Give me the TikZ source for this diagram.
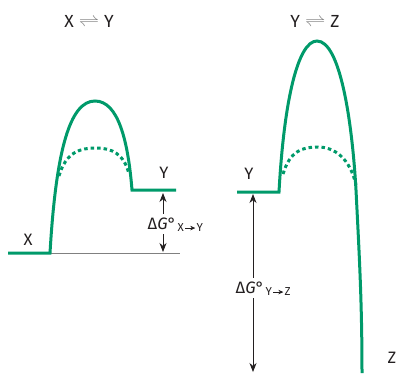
\documentclass[tikz,border=0pt]{standalone}
\usepackage{fontspec}
\setmainfont{Fira Sans}
\usetikzlibrary{arrows.meta}
\definecolor{curvegreen}{HTML}{009A6A}
\definecolor{txt}{HTML}{231F20}
\definecolor{basegray}{HTML}{808080}
\newcommand{\subarrow}{\hspace{1pt}\tikz[baseline=-0.6ex]\draw[txt,line width=0.7pt,-{Stealth[length=5pt,width=4.5pt]}] (0pt,0pt)--(10pt,0pt);\hspace{1pt}}
\newcommand{\eqharp}{\hspace{5pt}{\color{basegray}\scalebox{1.2}[1]{$\rightleftharpoons$}}\hspace{5pt}}
\begin{document}
\begin{tikzpicture}[x=1pt,y=-1pt,
  energy/.style={curvegreen,line width=3pt,line join=miter},
  dotcurve/.style={curvegreen,line width=3pt,dash pattern=on 3.5pt off 3pt},
  lbl/.style={text=txt,font=\fontsize{16.5}{19}\selectfont,inner sep=0pt},
  ttl/.style={text=txt,font=\fontsize{17.5}{20}\selectfont,inner sep=0pt},
  dglabel/.style={text=txt,font=\fontsize{16.5}{19}\selectfont,inner xsep=0pt,inner ysep=4pt},
  sublabel/.style={text=txt,font=\fontsize{11.5}{13}\selectfont,inner sep=0pt,anchor=base west},
  dgarrow/.style={txt,line width=0.8pt,-{Stealth[length=9pt,width=7pt]}}
]
\useasboundingbox (0,0) rectangle (402,373);

% titles
\node[ttl] (titleL) at (89,21) {X\eqharp Y};
\node[ttl] (titleR) at (315,21) {Y\eqharp Z};

% left diagram
\draw[basegray,line width=0.8pt] (50,253) -- (180,253);
\draw[energy] (8,253) -- (50,253) .. controls (56,150) and (70,101) .. (95,101)
  .. controls (118,101) and (128,140) .. (132,190) -- (176,190);
\draw[dotcurve] (59,176) .. controls (66,152) and (80,148) .. (96,148)
  .. controls (112,148) and (124,154) .. (129,174);
\node[lbl] (Xl) at (28,240) {X};
\node[lbl] (Yl) at (164,173) {Y};

\coordinate (aLtop) at (163,193);
\coordinate (aLbot) at (163,252);
\node[dglabel] (dgl) at (162,224) {Δ\textit{G}°};
\node[sublabel] (dgls) at ([xshift=1pt,yshift=-2pt]dgl.base east) {X\subarrow Y};
\draw[dgarrow] (dgl.north -| aLtop) -- (aLtop);
\draw[dgarrow] (dgl.south -| aLbot) -- (aLbot);

% right diagram
\draw[energy] (237,192) -- (279,192) .. controls (284,100) and (298,41) .. (317,41)
  .. controls (340,41) and (352,120) .. (356,190)
  .. controls (359,250) and (362,300) .. (362,373);
\draw[dotcurve] (283,174) .. controls (290,151) and (302,147) .. (318,147)
  .. controls (334,147) and (350,158) .. (356,185);
\node[lbl] (Yr) at (249,174) {Y};
\node[lbl] (Zr) at (392,358) {Z};

\coordinate (aRtop) at (253,194);
\coordinate (aRbot) at (253,372);
\node[dglabel] (dgr) at (250,288) {Δ\textit{G}°};
\node[sublabel] (dgrs) at ([xshift=1pt,yshift=-2pt]dgr.base east) {Y\subarrow Z};
\draw[dgarrow] (dgr.north -| aRtop) -- (aRtop);
\draw[dgarrow] (dgr.south -| aRbot) -- (aRbot);
\end{tikzpicture}
\end{document}
